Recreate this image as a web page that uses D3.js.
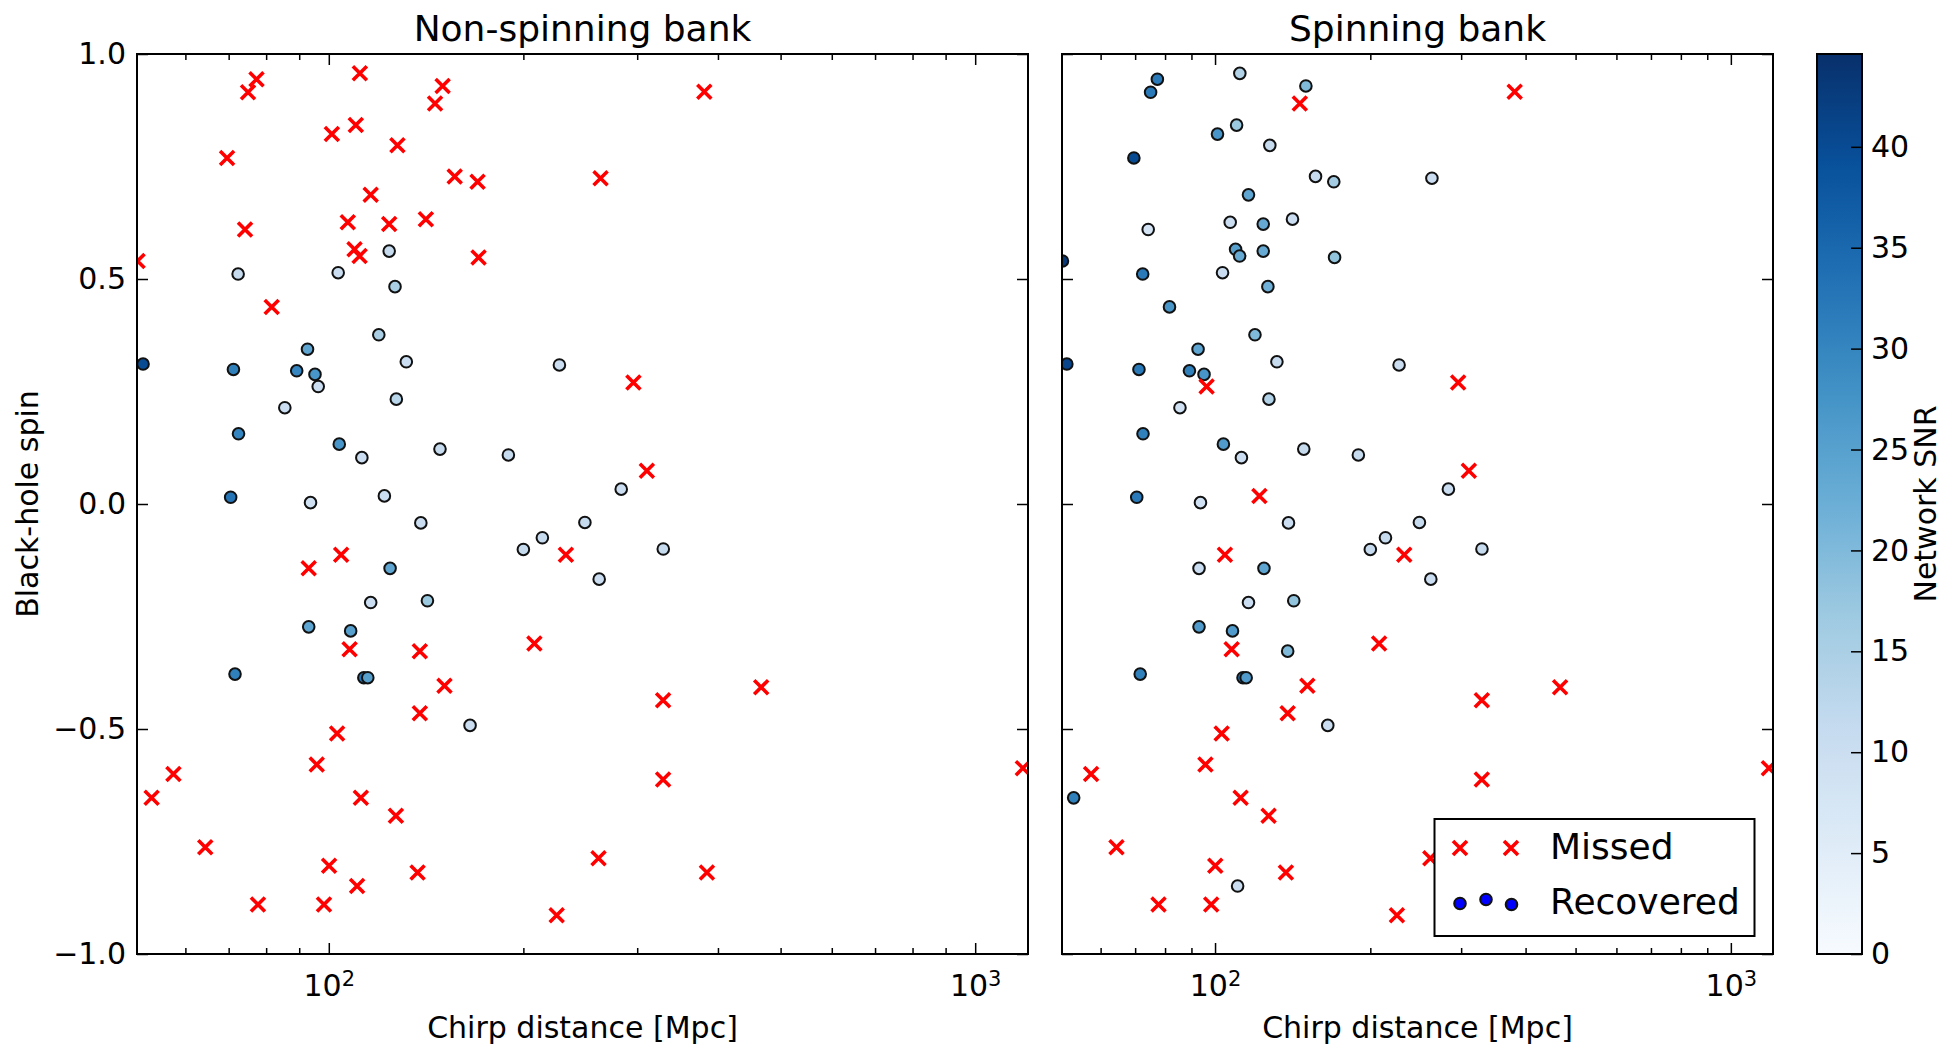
<!DOCTYPE html>
<html>
<head>
<meta charset="utf-8">
<script src="https://cdnjs.cloudflare.com/ajax/libs/d3/7.8.5/d3.min.js"></script>
<style>
  body { margin: 0; background: #ffffff; }
  svg { display: block; font-family: "DejaVu Sans", sans-serif; }
</style>
</head>
<body>
<script>
// inyecciones: distancia chirp [Mpc] y spin del agujero negro
var distancias = [77.3, 75.0, 111.7, 150, 146, 101.1, 110.1, 127.7, 69.6, 156.6,
                  169.9, 116.1, 74.2, 107, 124, 141.3, 109.6, 111.6, 170.5, 50.6,
                  81.6, 124, 72.4, 103.4, 126.6, 119.5, 92.7, 131.8, 227.4, 51.6,
                  71.2, 89.2, 95.2, 96.3, 85.5, 127.2, 72.5, 103.8, 112.5, 148.6,
                  189.6, 70.5, 93.7, 121.9, 381, 263.3, 296, 310.5, 283.4, 138.8,
                  200, 214, 249, 329.2, 262, 124.4, 93.1, 104.5, 232.7, 116.1,
                  142.1, 93.1, 108.1, 107.7, 138.3, 208, 71.6, 113.3, 114.9, 151,
                  138.3, 165.4, 103, 95.8, 57.5, 53.2, 112.1, 127, 64.4, 100.1,
                  137.2, 110.6, 77.7, 98.3, 225.2, 466.6, 329, 329, 1185, 261.4,
                  384.6];

var spins = [0.944, 0.915, 0.957, 0.929, 0.890, 0.822, 0.842, 0.797, 0.769, 0.728,
             0.716, 0.687, 0.610, 0.626, 0.622, 0.633, 0.566, 0.551, 0.548, 0.540,
             0.438, 0.562, 0.511, 0.514, 0.483, 0.376, 0.344, 0.316, 0.309, 0.311,
             0.299, 0.296, 0.288, 0.261, 0.214, 0.233, 0.156, 0.133, 0.103, 0.122,
             0.109, 0.015, 0.003, 0.018, 0.916, 0.724, 0.270, 0.074, 0.033, -0.042,
             -0.101, -0.075, -0.041, -0.100, -0.167, -0.143, -0.143, -0.113, -0.113, -0.219,
             -0.215, -0.273, -0.282, -0.323, -0.327, -0.310, -0.378, -0.386, -0.386, -0.404,
             -0.465, -0.492, -0.510, -0.579, -0.600, -0.653, -0.653, -0.693, -0.763, -0.804,
             -0.819, -0.849, -0.890, -0.890, -0.914, -0.407, -0.436, -0.612, -0.587, -0.787,
             -0.819];

// SNR de red recuperado (null = perdido)
var snrNoSpin = [null, null, null, null, null, null, null, null, null, null,
                 null, null, null, null, null, null, null, null, null, null,
                 null, 11, 11, 10, 15, 15, 24, 10, 10, 40,
                 31, 30, 27, 10, 10, 13, 30, 27, 10, 11,
                 11, 33, 9, 10, null, null, null, null, 10, 10,
                 11, 11, 11, 11, 10, 24, null, null, null, 10,
                 17, 24, 25, null, null, null, 31, 33, 25, null,
                 null, 10, null, null, null, null, null, null, null, null,
                 null, null, null, null, null, null, null, null, null, null,
                 null];

var snrSpin = [32, 32, 14, 20, null, 27, 17, 11, 40, 11,
               16, 24, 8, 10, 23, 10, 25, 23, 18, 43,
               27, 23, 32, 10, 22, 20, 24, 11, 10, 41,
               32, 31, 27, null, 9, 14, 31, 26, 10, 11,
               11, 32, 9, null, null, 10, null, null, 10, 10,
               11, 11, 11, 11, 10, 24, 10, null, null, 10,
               18, 26, 26, null, 20, null, 31, 33, 26, null,
               null, 10, null, null, null, 31, null, null, null, null,
               null, 10, null, null, null, null, null, null, null, null,
               null];

var titulos = ["Non-spinning bank", "Spinning bank"];
var ticksMayoresX = [100, 1000];
var ticksMenoresX = [60, 70, 80, 90, 200, 300, 400, 500, 600, 700, 800, 900];
var ticksY = [-1, -0.5, 0, 0.5, 1];
var ticksColorbar = [0, 5, 10, 15, 20, 25, 30, 35, 40];
var etiquetasLeyenda = ["Missed", "Recovered"];
var dominioX = [50.5, 1207];
var snrMax = 44.6;

var svgW = 1945;
var svgH = 1046;
var ejeYIni = 954;
var ejeYFin = 54;
var panelesX = [[137, 1028], [1062, 1773]];
var colorbarX = [1817, 1862];

var radio = 5.8;
var rutaCruz = "M-7,-7L7,7M-7,7L7,-7";

var svg = d3.select("body")
            .append("svg")
            .attr("width", svgW)
            .attr("height", svgH);

// mapa de colores Blues (mismo que matplotlib)
var colores = d3.scaleLinear()
                .domain(d3.range(9).map(function(i) { return i / 8 * snrMax; }))
                .range(d3.schemeBlues[9])
                .clamp(true);

var yScale = d3.scaleLinear()
               .domain([-1, 1])
               .range([ejeYIni, ejeYFin]);

function estiloEje(g) {
    g.select(".domain").remove();
    g.attr("font-family", null)
     .attr("font-size", 30);
    g.selectAll(".tick line")
     .attr("stroke", "#000")
     .attr("stroke-width", 1.5);
    g.selectAll(".tick text")
     .attr("fill", "#000");
}

function graficarPanel(i, snrs) {
    var x0 = panelesX[i][0];
    var x1 = panelesX[i][1];

    var xScale = d3.scaleLog()
                   .domain(dominioX)
                   .range([x0, x1]);

    var panel = svg.append("g").attr("id", "panel" + i);

    panel.append("clipPath")
         .attr("id", "clip" + i)
         .append("rect")
         .attr("x", x0)
         .attr("y", ejeYFin)
         .attr("width", x1 - x0)
         .attr("height", ejeYIni - ejeYFin);

    var datos = distancias.map(function(d, k) {
        return { dist: d, spin: spins[k], snr: snrs[k] };
    });

    var marcas = panel.append("g").attr("clip-path", "url(#clip" + i + ")");

    marcas.selectAll("circle")
          .data(datos.filter(function(d) { return d.snr !== null; }))
          .enter()
          .append("circle")
          .attr("cx", function(d) { return xScale(d.dist); })
          .attr("cy", function(d) { return yScale(d.spin); })
          .attr("r", radio)
          .attr("fill", function(d) { return colores(d.snr); })
          .attr("stroke", "#111")
          .attr("stroke-width", 2);

    marcas.selectAll("path.perdido")
          .data(datos.filter(function(d) { return d.snr === null; }))
          .enter()
          .append("path")
          .attr("class", "perdido")
          .attr("d", rutaCruz)
          .attr("transform", function(d) { return "translate(" + xScale(d.dist) + "," + yScale(d.spin) + ")"; })
          .attr("fill", "none")
          .attr("stroke", "#ff0000")
          .attr("stroke-width", 3.6);

    // ticks mayores y menores en los cuatro lados, hacia adentro
    panel.append("g")
         .attr("transform", "translate(0," + ejeYIni + ")")
         .call(d3.axisBottom(xScale).tickValues(ticksMayoresX).tickSizeInner(-11).tickSizeOuter(0).tickPadding(21))
         .call(estiloEje)
         .selectAll(".tick text")
         .each(function(d) {
             var t = d3.select(this).text("");
             t.append("tspan").text("10");
             t.append("tspan")
              .attr("dy", "-0.5em")
              .attr("font-size", 21)
              .text(Math.round(Math.log10(d)));
         });

    panel.append("g")
         .attr("transform", "translate(0," + ejeYIni + ")")
         .call(d3.axisBottom(xScale).tickValues(ticksMenoresX).tickSizeInner(-6).tickSizeOuter(0).tickFormat(""))
         .call(estiloEje);

    panel.append("g")
         .attr("transform", "translate(0," + ejeYFin + ")")
         .call(d3.axisTop(xScale).tickValues(ticksMayoresX).tickSizeInner(-11).tickSizeOuter(0).tickFormat(""))
         .call(estiloEje);

    panel.append("g")
         .attr("transform", "translate(0," + ejeYFin + ")")
         .call(d3.axisTop(xScale).tickValues(ticksMenoresX).tickSizeInner(-6).tickSizeOuter(0).tickFormat(""))
         .call(estiloEje);

    panel.append("g")
         .attr("transform", "translate(" + x0 + ",0)")
         .call(d3.axisLeft(yScale).tickValues(ticksY).tickSizeInner(-11).tickSizeOuter(0).tickPadding(11)
                 .tickFormat(i == 0 ? d3.format(".1f") : ""))
         .call(estiloEje);

    panel.append("g")
         .attr("transform", "translate(" + x1 + ",0)")
         .call(d3.axisRight(yScale).tickValues(ticksY).tickSizeInner(-11).tickSizeOuter(0).tickFormat(""))
         .call(estiloEje);

    panel.append("rect")
         .attr("x", x0)
         .attr("y", ejeYFin)
         .attr("width", x1 - x0)
         .attr("height", ejeYIni - ejeYFin)
         .attr("fill", "none")
         .attr("stroke", "#000")
         .attr("stroke-width", 2);

    panel.append("text")
         .attr("x", (x0 + x1) / 2)
         .attr("y", 41)
         .attr("text-anchor", "middle")
         .attr("font-size", 36)
         .text(titulos[i]);

    panel.append("text")
         .attr("x", (x0 + x1) / 2)
         .attr("y", 1038)
         .attr("text-anchor", "middle")
         .attr("font-size", 30)
         .text("Chirp distance [Mpc]");

    return xScale;
}

graficarPanel(0, snrNoSpin);
graficarPanel(1, snrSpin);

svg.append("text")
   .attr("transform", "translate(38," + (ejeYIni + ejeYFin) / 2 + ") rotate(-90)")
   .attr("text-anchor", "middle")
   .attr("font-size", 30)
   .text("Black-hole spin");

// leyenda
var leyenda = svg.append("g").attr("id", "leyenda");

leyenda.append("rect")
       .attr("x", 1434.5)
       .attr("y", 819)
       .attr("width", 320)
       .attr("height", 117)
       .attr("fill", "#fff")
       .attr("stroke", "#000")
       .attr("stroke-width", 2);

leyenda.selectAll("path")
       .data([1460, 1511])
       .enter()
       .append("path")
       .attr("d", rutaCruz)
       .attr("transform", function(d) { return "translate(" + d + ",848)"; })
       .attr("fill", "none")
       .attr("stroke", "#ff0000")
       .attr("stroke-width", 3.6);

leyenda.selectAll("circle")
       .data([[1460, 903.5], [1486, 899.5], [1511.5, 904.5]])
       .enter()
       .append("circle")
       .attr("cx", function(d) { return d[0]; })
       .attr("cy", function(d) { return d[1]; })
       .attr("r", radio)
       .attr("fill", "#0000ff")
       .attr("stroke", "#111")
       .attr("stroke-width", 2);

leyenda.selectAll("text")
       .data(etiquetasLeyenda)
       .enter()
       .append("text")
       .attr("x", 1550)
       .attr("y", function(d, k) { return 859 + k * 55; })
       .attr("font-size", 36)
       .text(function(d) { return d; });

// barra de color
var cScale = d3.scaleLinear()
               .domain([0, snrMax])
               .range([ejeYIni, ejeYFin]);

var grad = svg.append("defs")
              .append("linearGradient")
              .attr("id", "gradBlues")
              .attr("x1", 0).attr("y1", 1)
              .attr("x2", 0).attr("y2", 0);

grad.selectAll("stop")
    .data(d3.range(0, 1.0001, 0.02))
    .enter()
    .append("stop")
    .attr("offset", function(d) { return d; })
    .attr("stop-color", function(d) { return colores(d * snrMax); });

svg.append("rect")
   .attr("x", colorbarX[0])
   .attr("y", ejeYFin)
   .attr("width", colorbarX[1] - colorbarX[0])
   .attr("height", ejeYIni - ejeYFin)
   .attr("fill", "url(#gradBlues)");

svg.append("g")
   .attr("transform", "translate(" + colorbarX[1] + ",0)")
   .call(d3.axisRight(cScale).tickValues(ticksColorbar).tickSizeInner(-11).tickSizeOuter(0).tickPadding(9))
   .call(estiloEje);

svg.append("rect")
   .attr("x", colorbarX[0])
   .attr("y", ejeYFin)
   .attr("width", colorbarX[1] - colorbarX[0])
   .attr("height", ejeYIni - ejeYFin)
   .attr("fill", "none")
   .attr("stroke", "#000")
   .attr("stroke-width", 2);

svg.append("text")
   .attr("transform", "translate(1936," + (ejeYIni + ejeYFin) / 2 + ") rotate(-90)")
   .attr("text-anchor", "middle")
   .attr("font-size", 30)
   .text("Network SNR");
</script>
</body>
</html>
